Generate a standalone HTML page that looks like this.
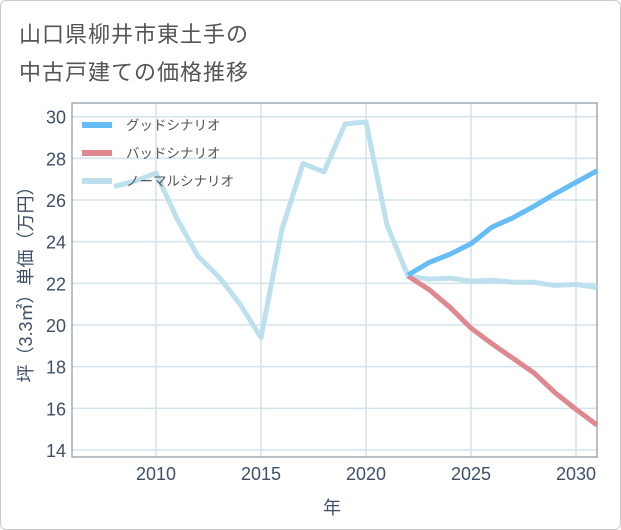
<!DOCTYPE html>
<html><head><meta charset="utf-8"><style>
body{margin:0;background:#fff;font-family:"Liberation Sans","Noto Sans CJK JP",sans-serif;}
#wrap{position:relative;width:619px;height:528px;border:1px solid #ccc;border-radius:6px;overflow:hidden}
.t{position:absolute;left:18px;font-size:22px;color:#555;letter-spacing:1px}
</style></head><body>
<div id="wrap">
<div class="t" style="top:16px">山口県柳井市東土手の</div>
<div class="t" style="top:54px">中古戸建ての価格推移</div>
<svg id="svg" width="621" height="530" style="position:absolute;left:-1px;top:-1px"></svg>
</div>
<script>
const years=[2008,2009,2010,2011,2012,2013,2014,2015,2016,2017,2018,2019,2020,2021,2022,2023,2024,2025,2026,2027,2028,2029,2030,2031];
const normal=[26.65,26.9,27.3,25.1,23.3,22.3,21.0,19.4,24.6,27.75,27.35,29.65,29.75,24.8,22.35,22.2,22.25,22.1,22.15,22.05,22.05,21.9,21.95,21.8];
const futureYears=[2022,2023,2024,2025,2026,2027,2028,2029,2030,2031];
const good=[22.4,23.0,23.4,23.9,24.7,25.15,25.7,26.3,26.85,27.4];
const bad=[22.35,21.7,20.85,19.85,19.1,18.4,17.7,16.75,15.95,15.2];
const xTicks=[2010,2015,2020,2025,2030];
const yTicks=[14,16,18,20,22,24,26,28,30];
const L=72,R=597,T=103,B=457;
const x=v=>L+(v-2006)*(R-L)/25;
const y=v=>116.7+(30-v)*20.83;
const svg=document.getElementById('svg');
const NS='http://www.w3.org/2000/svg';
function mk(tag,a){const e=document.createElementNS(NS,tag);for(const k in a)e.setAttribute(k,a[k]);svg.appendChild(e);return e;}
for(const t of yTicks){const l=mk('line',{x1:L,x2:R,y1:y(t),y2:y(t),stroke:'#d3e3ee','stroke-width':1.5});


const tx=mk('text',{x:L-6,y:y(t)+7,'text-anchor':'end','font-size':18,fill:'#3d5068'});tx.textContent=t;

}
for(const t of xTicks){const l=mk('line',{x1:x(t),x2:x(t),y1:T,y2:B,stroke:'#d3e3ee','stroke-width':1.5});


const tx=mk('text',{x:x(t),y:B+23,'text-anchor':'middle','font-size':18,fill:'#3d5068'});tx.textContent=t;

}
const fr=mk('rect',{x:L,y:T,width:R-L,height:B-T,fill:'none',stroke:'#8a96a3','stroke-width':1.2});


function line(xs,vs,c,n){const p=mk('polyline',{points:xs.map((v,i)=>x(v)+','+y(vs[i])).join(' '),fill:'none',stroke:c,'stroke-width':5,'stroke-linejoin':'round'});

}
line(years,normal,'#bde0ee','normal-scenario-line');
line(futureYears,bad,'#e0888f','bad-scenario-line');
line(futureYears,good,'#66bdf5','good-scenario-line');
const leg=[['グッドシナリオ','#66bdf5'],['バッドシナリオ','#e0888f'],['ノーマルシナリオ','#bde0ee']];
leg.forEach((d,i)=>{const yy=125+i*28;
const l=mk('line',{x1:82,x2:112,y1:yy,y2:yy,stroke:d[1],'stroke-width':6});


const t=mk('text',{x:126,y:yy+5,'font-size':13.5,fill:'#555'});t.textContent=d[0];

});
const yl=mk('text',{transform:'translate(32,280) rotate(-90)','text-anchor':'middle','font-size':18,fill:'#3d5068'});yl.textContent='坪（3.3㎡）単価（万円）';


const xl=mk('text',{x:332,y:514,'text-anchor':'middle','font-size':18,fill:'#3d5068'});xl.textContent='年';


</script>
</body></html>
